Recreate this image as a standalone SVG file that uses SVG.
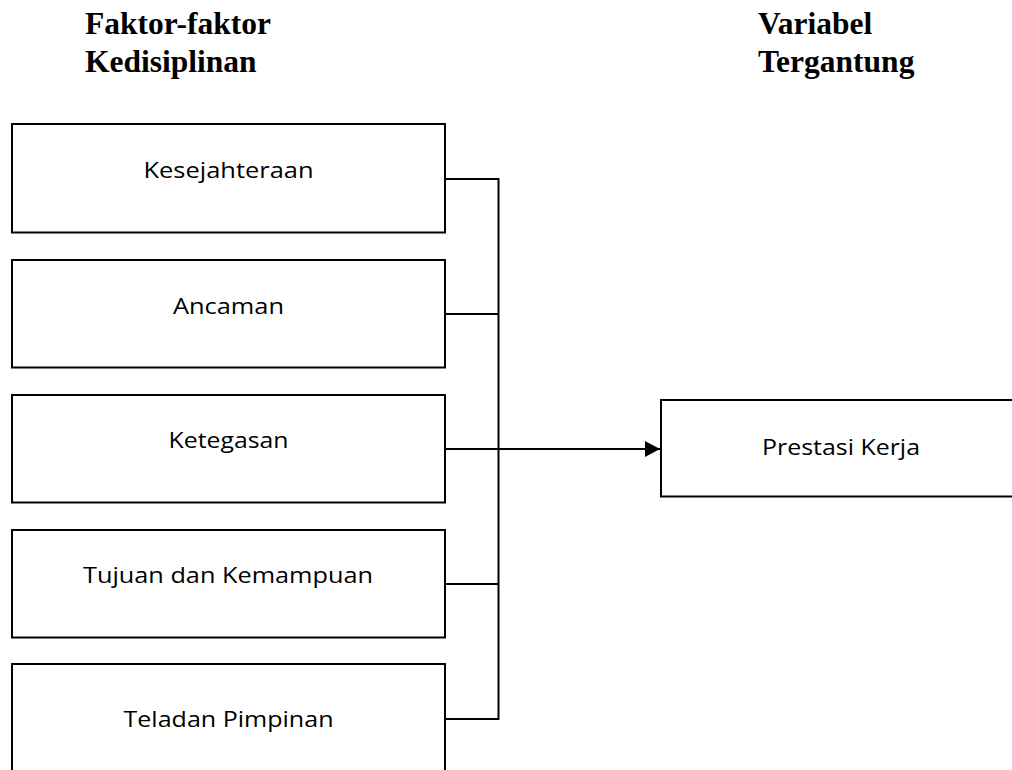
<svg xmlns="http://www.w3.org/2000/svg" width="1012" height="770" viewBox="0 0 1012 770">
<defs>
<style>
.box{fill:#fff;stroke:#000;stroke-width:2}
.lbl{font-family:"Open Sans","Liberation Sans",sans-serif;font-size:22px;fill:#000;text-anchor:middle}
.hdr{font-family:"Liberation Serif","Times New Roman",serif;font-size:31.5px;font-weight:bold;fill:#000}
.con{fill:none;stroke:#000;stroke-width:2}
</style>
<marker id="arr" markerWidth="16" markerHeight="16" refX="15" refY="8" orient="auto" markerUnits="userSpaceOnUse">
<path d="M0,0 L15,8 L0,16 Z" fill="#000"/>
</marker>
</defs>
<rect width="1012" height="770" fill="#fff"/>
<g id="headers">
<text class="hdr" x="85" y="34">Faktor-faktor</text>
<text class="hdr" x="85" y="72">Kedisiplinan</text>
<text class="hdr" x="758" y="34">Variabel</text>
<text class="hdr" x="758" y="72">Tergantung</text>
</g>
<g id="connectors">
<path class="con" d="M445,179 H498.5 M445,314 H498.5 M445,584 H498.5 M445,719 H498.5 M498.5,178 V720"/>
<path class="con" d="M445,449 H660" marker-end="url(#arr)"/>
</g>
<g id="n1"><rect class="box" x="12" y="124" width="433" height="108.5"/><text class="lbl" x="228.5" y="178" textLength="170" lengthAdjust="spacingAndGlyphs">Kesejahteraan</text></g>
<g id="n2"><rect class="box" x="12" y="260" width="433" height="107.5"/><text class="lbl" x="228.5" y="314" textLength="111" lengthAdjust="spacingAndGlyphs">Ancaman</text></g>
<g id="n3"><rect class="box" x="12" y="395" width="433" height="107.5"/><text class="lbl" x="228.5" y="448" textLength="120" lengthAdjust="spacingAndGlyphs">Ketegasan</text></g>
<g id="n4"><rect class="box" x="12" y="530" width="433" height="107.5"/><text class="lbl" x="228" y="583" textLength="290" lengthAdjust="spacingAndGlyphs">Tujuan dan Kemampuan</text></g>
<g id="n5"><rect class="box" x="12" y="664" width="433" height="120"/><text class="lbl" x="228.5" y="727" textLength="210" lengthAdjust="spacingAndGlyphs">Teladan Pimpinan</text></g>
<g id="n6"><rect class="box" x="661" y="400" width="370" height="96.5"/><text class="lbl" x="841" y="455" textLength="158" lengthAdjust="spacingAndGlyphs">Prestasi Kerja</text></g>
</svg>
